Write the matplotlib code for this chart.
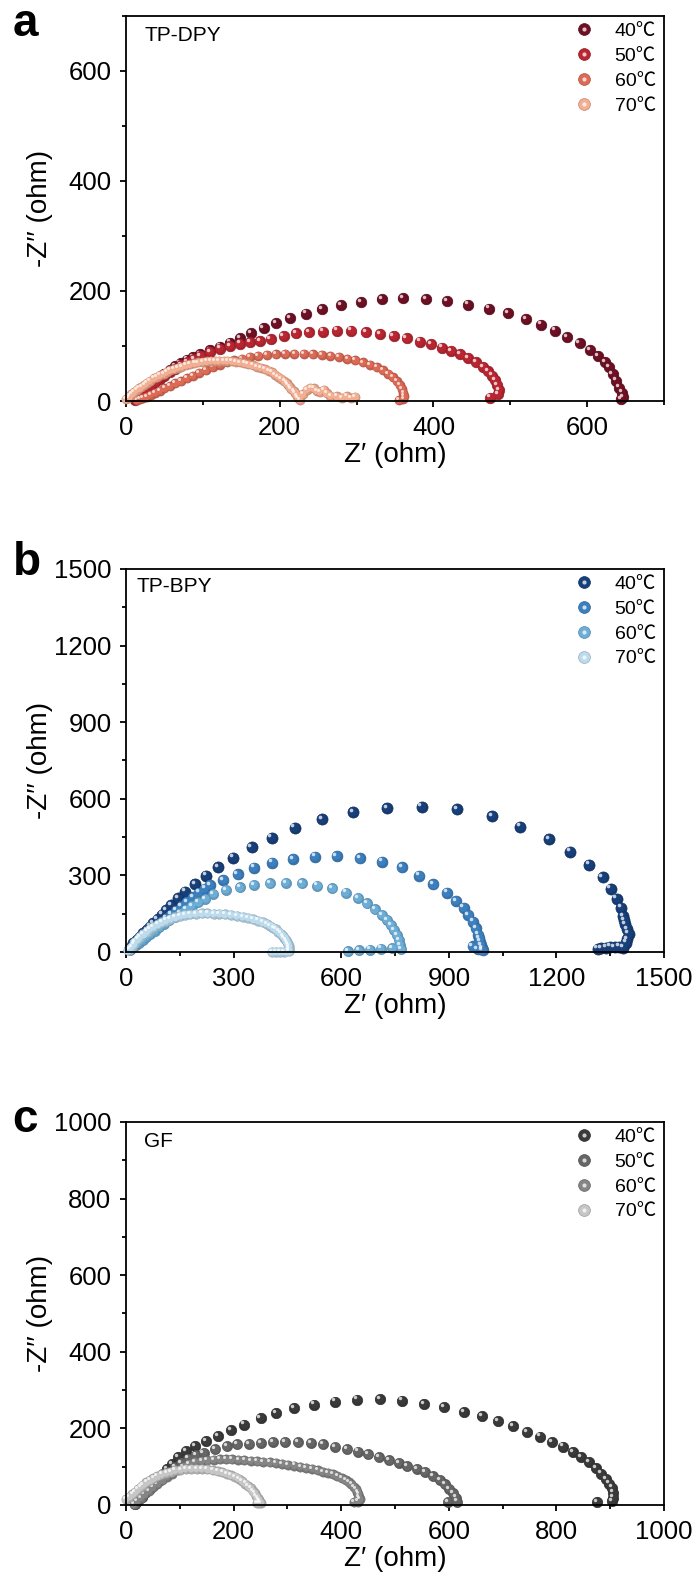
#!/usr/bin/env python3
"""Nyquist plots of TP-DPY, TP-BPY and GF at 40-70 C."""

import matplotlib

matplotlib.use("Agg")
import matplotlib.colors as mcolors
import matplotlib.pyplot as plt
from matplotlib.lines import Line2D
from matplotlib.ticker import MultipleLocator
from matplotlib.transforms import ScaledTranslation

plt.rcParams["font.family"] = ["Liberation Sans", "Noto Sans CJK SC", "DejaVu Sans"]

temps = ["40℃", "50℃", "60℃", "70℃"]

# ---- panel a: TP-DPY ----
a40_re = [12, 15, 19, 23, 28, 33, 38, 44, 50, 57, 64, 71, 79, 87, 96, 109, 122, 135, 148, 163,
          179, 195, 213, 234, 255, 280, 306, 333, 360, 390, 418, 445, 472, 497, 520, 540, 558, 574, 590, 604,
          614, 623, 629, 633, 638, 642, 645, 647, 644]
a40_im = [3, 8, 13, 18, 24, 30, 36, 42, 49, 56, 63, 69, 75, 80, 85, 93, 99, 106, 114, 123,
          133, 141, 151, 159, 167, 174, 180, 185, 187, 185, 181, 175, 168, 160, 149, 139, 128, 116, 105, 93,
          82, 71, 61, 49, 37, 24, 15, 7, 3]
a50_re = [12, 15, 19, 23, 28, 33, 38, 44, 50, 57, 64, 72, 80, 88, 97, 109, 122, 135, 148, 161,
          174, 188, 205, 221, 238, 256, 274, 293, 312, 330, 348, 365, 382, 397, 411, 423, 435, 445, 455, 464,
          471, 476, 480, 483, 485, 484, 474]
a50_im = [2, 7, 12, 17, 23, 29, 34, 40, 46, 53, 59, 65, 71, 76, 82, 89, 95, 100, 104, 107,
          109, 112, 118, 123, 125, 126, 128, 128, 125, 122, 118, 114, 108, 103, 97, 91, 85, 78, 70, 62,
          54, 46, 38, 29, 20, 12, 6]
a60_re = [14, 18, 22, 27, 32, 38, 44, 50, 57, 64, 71, 79, 87, 95, 104, 113, 122, 131, 141, 151,
          161, 172, 183, 195, 207, 219, 231, 243, 255, 266, 277, 288, 298, 308, 317, 326, 334, 341, 347, 352,
          356, 359, 361, 362, 361, 355]
a60_im = [1, 3, 5, 8, 11, 15, 19, 23, 27, 32, 36, 41, 46, 51, 56, 61, 66, 70, 74, 77,
          80, 82, 84, 85, 86, 86, 86, 85, 84, 82, 80, 77, 74, 70, 66, 61, 56, 50, 43, 36,
          29, 22, 15, 9, 4, 1]
a70_re = [0, 3, 5, 7, 10, 14, 17, 20, 24, 27,
          31, 36, 40, 44, 49, 53, 57, 62, 67, 72,
          78, 83, 89, 94, 100, 105, 110, 116, 121, 127,
          132, 138, 143, 148, 154, 159, 165, 170, 175, 181,
          186, 190, 194, 198, 202, 206, 209, 211, 213, 215,
          218, 220, 222, 224, 226, 230, 235, 240, 244, 248,
          252, 257, 261, 266, 274, 281, 287, 293, 298]
a70_im = [3, 5, 9, 12, 16, 20, 23, 26, 30, 33,
          37, 41, 44, 47, 50, 53, 56, 58, 60, 62,
          65, 67, 69, 70, 71, 72, 73, 73, 73, 73,
          73, 72, 71, 70, 69, 67, 65, 62, 60, 58,
          55, 52, 48, 44, 40, 36, 32, 29, 25, 21,
          18, 15, 10, 5, 2, 12, 20, 24, 23, 19,
          17, 20, 14, 10, 9, 6, 9, 5, 8]

# ---- panel b: TP-BPY ----
b40_re = [11, 20, 30, 39, 48, 58, 67, 76, 88, 100, 112, 125, 146, 165, 192, 223, 257, 299, 350, 406,
          470, 546, 633, 727, 824, 922, 1020, 1099, 1179, 1239, 1290, 1329, 1351, 1368, 1380, 1386, 1389, 1391,
          1396, 1401, 1397, 1394, 1386, 1375, 1362, 1350, 1338, 1325, 1315]
b40_im = [14, 34, 47, 60, 73, 86, 99, 112, 128, 145, 164, 183, 210, 236, 266, 298, 332, 369, 410, 448,
          487, 519, 548, 564, 569, 558, 532, 491, 442, 392, 342, 292, 248, 209, 173, 140, 124, 108,
          90, 71, 50, 36, 17, 20, 18, 20, 17, 15, 13]
b50_re = [12, 20, 28, 37, 46, 56, 66, 77, 88, 100, 113, 126, 140, 155, 170, 186, 203, 220, 234, 271,
          311, 357, 408, 465, 527, 587, 652, 713, 769, 818, 857, 894, 920, 941, 954, 967, 976, 982, 985, 987,
          990, 992, 994, 980, 966]
b50_im = [12, 22, 32, 43, 54, 66, 78, 90, 103, 117, 132, 146, 162, 179, 196, 214, 232, 248, 262, 282,
          304, 330, 350, 364, 373, 376, 367, 354, 332, 299, 265, 232, 200, 174, 145, 119, 93, 67, 53, 40,
          27, 14, 6, 12, 22]
b60_re = [10, 18, 27, 36, 46, 57, 68, 80, 93, 107, 121, 136, 151, 167, 184, 202, 221, 243, 279, 318,
          357, 401, 445, 490, 533, 575, 613, 646, 671, 694, 713, 727, 738, 747, 755, 760, 764, 767, 742, 711,
          680, 649, 618]
b60_im = [8, 17, 27, 37, 48, 59, 71, 83, 96, 110, 124, 138, 152, 166, 180, 194, 208, 227, 243, 253,
          262, 269, 271, 269, 260, 249, 232, 211, 191, 167, 145, 125, 106, 86, 67, 47, 27, 10, 15, 13,
          9, 6, 3]
b70_re = [5, 10, 16, 21, 25, 32, 39, 48, 58, 67, 76, 88, 100, 111, 123, 137, 151, 164, 178, 194,
          211, 227, 244, 260, 276, 292, 309, 325, 341, 355, 369, 381, 392, 402, 411, 418, 425, 431, 437, 441,
          445, 448, 451, 453, 454, 454, 453, 441, 429, 418, 406]
b70_im = [6, 13, 21, 30, 40, 50, 60, 70, 80, 90, 99, 108, 116, 123, 129, 135, 141, 145, 148, 150,
          151, 151, 150, 149, 148, 145, 142, 138, 133, 128, 123, 117, 110, 103, 95, 88, 80, 72, 64, 56,
          47, 39, 31, 22, 14, 7, 2, 1, 1, 1, 1]

# ---- panel c: GF ----
c40_re = [16, 22, 29, 36, 44, 52, 60, 68, 76, 85, 97, 111, 129, 149, 171, 195, 220, 250, 279, 313,
          350, 389, 430, 472, 513, 554, 591, 628, 661, 692, 719, 746, 770, 792, 812, 830, 845, 860, 873, 883,
          892, 898, 903, 906, 906, 903, 876]
c40_im = [3, 12, 22, 33, 45, 57, 69, 82, 94, 106, 125, 140, 153, 166, 179, 195, 210, 227, 240, 253,
          262, 270, 275, 276, 272, 264, 255, 242, 231, 218, 205, 191, 178, 164, 152, 138, 125, 112, 97, 82,
          68, 56, 45, 32, 19, 10, 8]
c50_re = [16, 22, 29, 36, 44, 52, 61, 70, 80, 91, 103, 116, 130, 144, 166, 187, 207, 229, 250, 273,
          295, 319, 343, 366, 389, 411, 431, 450, 470, 489, 507, 523, 540, 555, 570, 583, 593, 601, 608, 613,
          615, 598]
c50_im = [2, 11, 21, 31, 42, 52, 63, 74, 86, 98, 110, 121, 130, 136, 145, 153, 158, 159, 162, 165,
          165, 164, 162, 158, 152, 145, 139, 132, 124, 117, 110, 101, 94, 86, 75, 65, 54, 42, 30, 19,
          9, 8]
c60_re = [14, 20, 27, 34, 42, 50, 58, 67, 76, 86, 96, 106, 117, 128, 140, 151, 163, 174, 186, 197,
          209, 220, 232, 244, 255, 267, 278, 290, 301, 313, 324, 335, 346, 356, 366, 376, 385, 393, 401, 408,
          414, 419, 423, 427, 430, 432, 433, 434, 431, 424]
c60_im = [2, 10, 19, 28, 37, 46, 55, 64, 73, 82, 91, 99, 107, 113, 116, 117, 118, 119, 119, 119,
          118, 117, 116, 114, 113, 112, 110, 107, 105, 103, 100, 97, 94, 91, 87, 84, 80, 75, 70, 65,
          59, 54, 47, 41, 34, 28, 21, 15, 9, 8]
c70_re = [0, 6, 12, 17, 22, 27, 32, 38, 45, 51, 58, 66, 75, 83, 91, 101, 111, 121, 131, 141,
          151, 161, 171, 179, 187, 195, 203, 210, 216, 222, 227, 232, 236, 239, 242, 245, 247, 249, 250, 247,
          244]
c70_im = [15, 21, 28, 34, 41, 47, 53, 59, 65, 70, 75, 80, 84, 87, 90, 92, 94, 95, 95, 94,
          93, 91, 88, 85, 82, 78, 74, 68, 62, 56, 49, 43, 36, 30, 23, 18, 13, 9, 6, 5,
          6]

reds = ["#6e0f24", "#b92530", "#dc6a55", "#f4ae92"]
blues = ["#173f7a", "#3b7fbf", "#6caed7", "#bcdcee"]
greys = ["#3a3a3a", "#666666", "#858585", "#c6c6c6"]


def shade(color, f):
    r, g, b = mcolors.to_rgb(color)
    if f < 1:
        return (r * f, g * f, b * f)
    t = f - 1
    return (r + (1 - r) * t, g + (1 - g) * t, b + (1 - b) * t)


def draw_balls(ax, x, y, color, ms):
    # shaded sphere look: slightly darker rim, body colour, small white highlight up-left
    ax.plot(x, y, "o", ls="none", ms=ms, color=shade(color, 0.9), mec=shade(color, 0.78), mew=0.5,
            clip_on=False)
    dpi_tr = ax.figure.dpi_scale_trans
    mid = ScaledTranslation(-0.06 * ms / 72, 0.06 * ms / 72, dpi_tr)
    ax.plot(x, y, "o", ls="none", ms=ms * 0.8, color=color, mec="none",
            transform=ax.transData + mid, clip_on=False)
    hi = ScaledTranslation(-0.2 * ms / 72, 0.22 * ms / 72, dpi_tr)
    ax.plot(x, y, "o", ls="none", ms=ms * 0.33, color="white", alpha=0.75, mec="none",
            transform=ax.transData + hi, clip_on=False)


def setup_panel(fig, rect, letter, name, lim, step, series, colors, sizes, name_xy):
    ax = fig.add_axes(rect)
    for (re, im), c, ms in zip(series, colors, sizes):
        draw_balls(ax, re, im, c, ms)
    ax.set_xlim(0, lim[0])
    ax.set_ylim(0, lim[1])
    ax.xaxis.set_major_locator(MultipleLocator(step))
    ax.xaxis.set_minor_locator(MultipleLocator(step / 2))
    ax.yaxis.set_major_locator(MultipleLocator(step))
    ax.yaxis.set_minor_locator(MultipleLocator(step / 2))
    ax.tick_params(which="both", direction="out", width=1.3, top=False, right=False)
    ax.tick_params(which="major", length=4.5, pad=6, labelsize=18.5)
    ax.tick_params(which="minor", length=3)
    for sp in ax.spines.values():
        sp.set_linewidth(1.3)
    ax.set_xlabel("Z′ (ohm)", fontsize=20, labelpad=2)
    ax.set_ylabel("-Z′′ (ohm)", fontsize=20)
    ax.yaxis.set_label_coords(-0.136, 0.5)
    ax.text(name_xy[0], name_xy[1], name, transform=ax.transAxes, fontsize=15, va="center", ha="left")

    handles = []
    for c in colors:
        base = Line2D([], [], ls="none", marker="o", ms=8.5, color=c, mec=shade(c, 0.78), mew=0.5)
        hi = Line2D([], [], ls="none", marker="o", ms=3.0, color="white", alpha=0.75, mec="none")
        handles.append((base, hi))
    ax.legend(handles, temps, loc="upper right", bbox_to_anchor=(0.985, 0.983), frameon=False,
              fontsize=14, handlelength=1.0, handletextpad=1.05, labelspacing=0.37,
              borderpad=0, borderaxespad=0)

    fig.text(0.018, rect[1] + rect[3] + letter[1], letter[0], fontsize=33, fontweight="bold",
             va="baseline", ha="left")
    return ax


def main():
    fig = plt.figure(figsize=(6.99, 15.8), dpi=100)
    left, width = 0.1803, 0.7697

    setup_panel(fig, [left, 0.7462, width, 0.2437], ("a", -0.0128), "TP-DPY", (700, 700), 200,
                [(a40_re, a40_im), (a50_re, a50_im), (a60_re, a60_im), (a70_re, a70_im)],
                reds, [7.6, 7.6, 6.5, 6.5], (0.035, 0.948))
    setup_panel(fig, [left, 0.3975, width, 0.2424], ("b", -0.0040), "TP-BPY", (1500, 1500), 300,
                [(b40_re, b40_im), (b50_re, b50_im), (b60_re, b60_im), (b70_re, b70_im)],
                blues, [8.0, 7.8, 7.3, 6.8], (0.020, 0.953))
    setup_panel(fig, [left, 0.0475, width, 0.2424], ("c", -0.0063), "GF", (1000, 1000), 200,
                [(c40_re, c40_im), (c50_re, c50_im), (c60_re, c60_im), (c70_re, c70_im)],
                greys, [7.5, 7.3, 6.6, 6.6], (0.033, 0.948))

    fig.savefig("out.png", dpi=100)


if __name__ == "__main__":
    main()
